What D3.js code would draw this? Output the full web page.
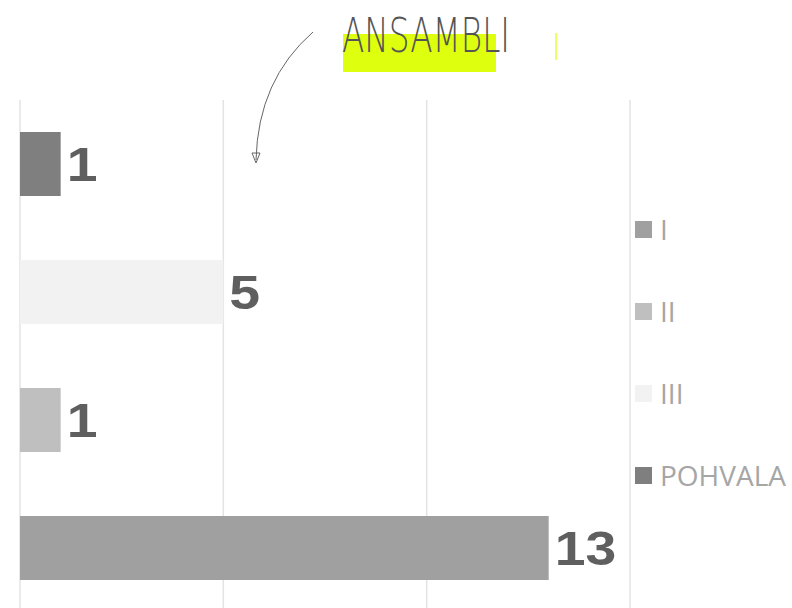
<!DOCTYPE html>
<html><head><meta charset="utf-8">
<script src="https://cdn.jsdelivr.net/npm/d3@7"></script>
<style>body{margin:0;background:#fff;}svg{display:block;}</style>
</head><body>
<svg id="c" width="792" height="608"></svg>
<script>
const categories = ["POHVALA", "III", "II", "I"];
const values = [1, 5, 1, 13];
const colors = ["#7f7f7f", "#f2f2f2", "#bfbfbf", "#a0a0a0"];
const legendOrder = ["I", "II", "III", "POHVALA"];
const xTicks = [0, 5, 10, 15];
const title = "ANSAMBLI";

const svg = d3.select("#c");
const x = d3.scaleLinear().domain([0, 15]).range([20, 630]);
const y = d3.scaleBand().domain(categories).range([100, 612]).paddingInner(0.5).paddingOuter(0.25);
const color = d3.scaleOrdinal().domain(categories).range(colors);

// gridlines
svg.append("g").selectAll("line").data(xTicks).join("line")
  .attr("x1", d => x(d)).attr("x2", d => x(d))
  .attr("y1", 100).attr("y2", 608)
  .attr("stroke", "#e3e3e3").attr("stroke-width", 1.5);

// bars
svg.append("g").selectAll("rect").data(categories).join("rect")
  .attr("x", x(0)).attr("y", d => y(d))
  .attr("width", (d, i) => x(values[i]) - x(0))
  .attr("height", y.bandwidth())
  .attr("fill", d => color(d));

// value labels
svg.append("g").selectAll("text").data(categories).join("text")
  .attr("transform", (d, i) => `translate(${x(values[i]) + 6},${y(d) + y.bandwidth() / 2 + 17}) scale(1.13,1)`)
  .style("font-family", "'Liberation Sans', Arial, sans-serif")
  .attr("font-weight", "bold").attr("font-size", 49)
  .attr("fill", "#5f5f5f")
  .text((d, i) => values[i]);

// legend
const lg = svg.append("g");
const ly = d3.scalePoint().domain(legendOrder).range([230, 476]);
lg.selectAll("rect").data(legendOrder).join("rect")
  .attr("x", 635).attr("y", d => ly(d) - 9).attr("width", 17).attr("height", 17)
  .attr("fill", d => color(d));
lg.selectAll("text").data(legendOrder).join("text")
  .attr("x", 660).attr("y", d => ly(d) + 10)
  .style("font-family", "'Open Sans', 'Noto Sans', sans-serif").attr("font-size", 28)
  .attr("fill", "#a6a6a6")
  .text(d => d);

// title highlight
svg.append("rect").attr("x", 343).attr("y", 34).attr("width", 153).attr("height", 38)
  .attr("fill", "#dcff00").attr("opacity", 0.95);
svg.append("rect").attr("x", 555).attr("y", 33).attr("width", 2).attr("height", 27)
  .attr("fill", "#eaff66");
svg.append("text").attr("x", 342).attr("y", 52)
  .style("font-family", "'DejaVu Sans', sans-serif")
  .attr("font-size", 48).attr("fill", "#555").attr("font-weight", 200)
  .attr("textLength", 168).attr("lengthAdjust", "spacingAndGlyphs")
  .text(title);

// arrow
svg.append("path").attr("d", "M313,32 Q258,80 256,160")
  .attr("fill", "none").attr("stroke", "#666").attr("stroke-width", 1);
svg.append("path").attr("d", "M252,153 L260,153 L256,163 Z")
  .attr("fill", "none").attr("stroke", "#666").attr("stroke-width", 1);
</script>
</body></html>
